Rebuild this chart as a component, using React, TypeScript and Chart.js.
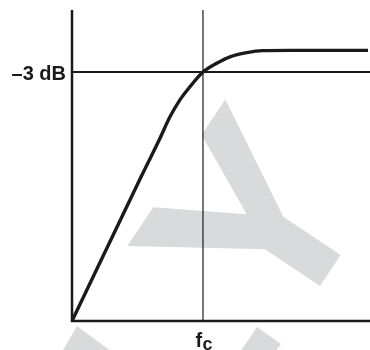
import React, { useEffect, useRef } from "react";
import { Chart, registerables } from "chart.js";

Chart.register(...registerables);

// Normalised frequency (f / fc) and response level (arbitrary units, -3 dB level = 100)
const freq = [0, 0.534, 0.672, 0.748, 0.824, 0.901, 1.0, 1.105, 1.206, 1.334, 1.458, 1.664, 2.26];
const level = [0, 58.6, 73.4, 82.0, 88.8, 94.1, 100, 103.5, 106.1, 107.8, 108.6, 108.7, 108.7];

const cutoffFreq = 1.0;
const cutoffLevel = 100;
const yTickLabel = "\u20133 dB";
const xTickMain = "f";
const xTickSub = "c";

const xMax = 2.26;
const yMax = 124.9;

const FONT = "'Liberation Sans', Arial, sans-serif";

const overlay = {
  id: "overlay",
  beforeDatasetsDraw(chart: any) {
    const ctx = chart.ctx;
    ctx.save();
    ctx.fillStyle = "#d9dadc";
    const polys: number[][][] = [
      [
        [225.3, 99.3],
        [201.7, 135],
        [246.7, 214.3],
        [153.3, 207.3],
        [127.3, 246],
        [265, 249.3],
        [320, 286],
        [340.7, 255],
        [283.3, 216.7],
      ],
      [
        [62, 352],
        [77, 326],
        [112, 352],
      ],
      [
        [240, 352],
        [257, 327],
        [281, 344],
        [275, 352],
      ],
    ];
    for (const p of polys) {
      ctx.beginPath();
      ctx.moveTo(p[0][0], p[0][1]);
      for (let i = 1; i < p.length; i++) ctx.lineTo(p[i][0], p[i][1]);
      ctx.closePath();
      ctx.fill();
    }

    const xs = chart.scales.x;
    const ys = chart.scales.y;
    const x0 = xs.getPixelForValue(0);
    const x1 = xs.getPixelForValue(xMax);
    const y0 = ys.getPixelForValue(0);
    const yTop = ys.getPixelForValue(yMax);
    const xc = xs.getPixelForValue(cutoffFreq);
    const yc = ys.getPixelForValue(cutoffLevel);

    ctx.strokeStyle = "#1a1a1a";
    // fc vertical
    ctx.lineWidth = 1.2;
    ctx.beginPath();
    ctx.moveTo(xc, yTop);
    ctx.lineTo(xc, y0);
    ctx.stroke();
    // -3 dB horizontal
    ctx.lineWidth = 2;
    ctx.beginPath();
    ctx.moveTo(x0, yc);
    ctx.lineTo(x1 + 2, yc);
    ctx.stroke();
    // axes
    ctx.lineWidth = 2.5;
    ctx.beginPath();
    ctx.moveTo(x0, yTop);
    ctx.lineTo(x0, y0);
    ctx.lineTo(x1 + 2, y0);
    ctx.stroke();

    // labels
    ctx.fillStyle = "#1a1a1a";
    ctx.font = `bold 20px ${FONT}`;
    ctx.textAlign = "right";
    ctx.textBaseline = "alphabetic";
    ctx.fillText(yTickLabel, x0 - 6, yc + 8);
    ctx.textAlign = "left";
    ctx.fillText(xTickMain, xc - 7.5, 346.5);
    ctx.font = `bold 18px ${FONT}`;
    ctx.fillText(xTickSub, xc - 0.5, 350);
    ctx.restore();
  },
};

export default function App() {
  const ref = useRef<HTMLCanvasElement>(null);
  useEffect(() => {
    if (!ref.current) return;
    const chart = new Chart(ref.current, {
      type: "line",
      data: {
        datasets: [
          {
            data: freq.map((f, i) => ({ x: f, y: level[i] })),
            borderColor: "#1a1a1a",
            borderWidth: 3.4,
            pointRadius: 0,
            cubicInterpolationMode: "monotone",
            fill: false,
          },
        ],
      },
      options: {
        responsive: false,
        animation: false,
        devicePixelRatio: 1,
        layout: { padding: { left: 72, right: 2, top: 10, bottom: 29 } },
        plugins: { legend: { display: false }, tooltip: { enabled: false } },
        scales: {
          x: { type: "linear", min: 0, max: xMax, display: false },
          y: { type: "linear", min: 0, max: yMax, display: false },
        },
      },
      plugins: [overlay],
    });
    return () => chart.destroy();
  }, []);
  return (
    <div style={{ position: "absolute", left: 0, top: 0, width: 370, height: 350, background: "#fff" }}>
      <canvas ref={ref} width={370} height={350} />
    </div>
  );
}
